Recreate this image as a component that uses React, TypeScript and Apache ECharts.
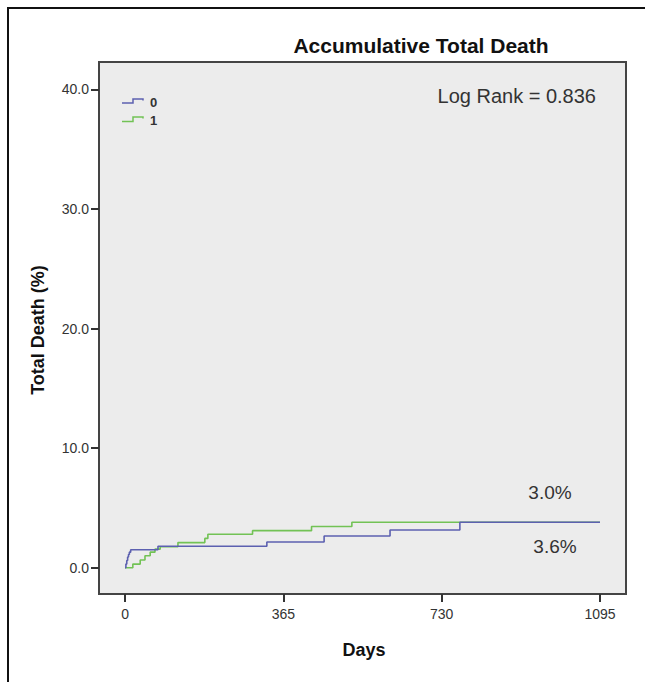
import React, { useEffect, useRef } from "react";
import * as echarts from "echarts";

// Group 0 (blue) cumulative death (%) by day
const days0 = [0, 2, 4, 6, 8, 10, 13, 76, 327, 459, 611, 772, 1095];
const death0 = [0, 0.3, 0.6, 0.9, 1.1, 1.3, 1.5, 1.8, 2.15, 2.65, 3.15, 3.8, 3.8];
// Group 1 (green)
const days1 = [0, 18, 35, 46, 58, 69, 81, 122, 184, 191, 294, 430, 523, 1095];
const death1 = [0, 0.3, 0.65, 1.0, 1.3, 1.55, 1.75, 2.1, 2.45, 2.8, 3.1, 3.45, 3.8, 3.8];

const groupNames = ["0", "1"];
const xTicks = [0, 365, 730, 1095];
const yTicks = [0, 10, 20, 30, 40];
const titleText = "Accumulative Total Death";
const logRankText = "Log Rank = 0.836";
const endLabel0 = "3.6%";
const endLabel1 = "3.0%";

const FONT = "'Liberation Sans', Arial, sans-serif";
const BLUE = "#5c60b0";
const GREEN = "#72c255";

export default function App() {
  const ref = useRef<HTMLDivElement>(null);
  useEffect(() => {
    if (!ref.current) return;
    const chart = echarts.init(ref.current, null, { renderer: "svg" });
    const s0 = days0.map((d, i) => [d, death0[i]]);
    const s1 = days1.map((d, i) => [d, death1[i]]);
    chart.setOption({
      animation: false,
      backgroundColor: "#ffffff",
      grid: {
        left: 99,
        right: 19,
        top: 62,
        bottom: 88,
        show: true,
        backgroundColor: "#ececec",
        borderColor: "#444",
        borderWidth: 2,
      },
      xAxis: {
        type: "value",
        min: -60,
        max: 1155,
        splitLine: { show: false },
        axisLine: { show: false, onZero: false },
        axisTick: { show: true, length: 8, customValues: xTicks, lineStyle: { color: "#333", width: 2 } },
        axisLabel: {
          customValues: xTicks,
          color: "#333",
          fontSize: 14,
          fontFamily: FONT,
          margin: 13,
          formatter: (v: number) => String(v),
        },
      },
      yAxis: {
        type: "value",
        min: -2.2,
        max: 42.3,
        splitLine: { show: false },
        axisLine: { show: false, onZero: false },
        axisTick: { show: true, length: 8, customValues: yTicks, lineStyle: { color: "#333", width: 2 } },
        axisLabel: {
          customValues: yTicks,
          color: "#333",
          fontSize: 14,
          fontFamily: FONT,
          margin: 10,
          formatter: (v: number) => v.toFixed(1),
        },
      },
      series: [
        {
          name: groupNames[1],
          type: "line",
          step: "end",
          data: s1,
          showSymbol: false,
          lineStyle: { color: GREEN, width: 1.6 },
          z: 2,
        },
        {
          name: groupNames[0],
          type: "line",
          step: "end",
          data: s0,
          showSymbol: false,
          lineStyle: { color: BLUE, width: 1.6 },
          z: 3,
        },
      ],
      graphic: [
        {
          type: "rect",
          shape: { x: 8, y: 8, width: 720, height: 720 },
          style: { fill: "none", stroke: "#111", lineWidth: 2 },
          silent: true,
        },
        {
          type: "text",
          x: 421,
          y: 45,
          style: {
            text: titleText,
            fontSize: 21,
            fontWeight: "bold",
            fontFamily: FONT,
            fill: "#111",
            align: "center",
            verticalAlign: "middle",
          },
        },
        {
          type: "text",
          x: 596,
          y: 96,
          style: {
            text: logRankText,
            fontSize: 20,
            fontFamily: FONT,
            fill: "#333",
            align: "right",
            verticalAlign: "middle",
          },
        },
        {
          type: "text",
          x: 550,
          y: 492,
          style: { text: endLabel1, fontSize: 19, fontFamily: FONT, fill: "#333", align: "center", verticalAlign: "middle" },
        },
        {
          type: "text",
          x: 555,
          y: 546,
          style: { text: endLabel0, fontSize: 19, fontFamily: FONT, fill: "#333", align: "center", verticalAlign: "middle" },
        },
        {
          type: "text",
          x: 38,
          y: 330,
          rotation: Math.PI / 2,
          style: {
            text: "Total Death (%)",
            fontSize: 18,
            fontWeight: "bold",
            fontFamily: FONT,
            fill: "#111",
            align: "center",
            verticalAlign: "middle",
          },
        },
        {
          type: "text",
          x: 364,
          y: 650,
          style: {
            text: "Days",
            fontSize: 18,
            fontWeight: "bold",
            fontFamily: FONT,
            fill: "#111",
            align: "center",
            verticalAlign: "middle",
          },
        },
        {
          type: "polyline",
          shape: { points: [[122, 103], [133, 103], [133, 99], [143, 99], [143, 100.5]] },
          style: { stroke: BLUE, lineWidth: 1.5, fill: "none" },
        },
        {
          type: "text",
          x: 150,
          y: 102,
          style: { text: groupNames[0], fontSize: 13, fontWeight: "bold", fontFamily: FONT, fill: "#333", verticalAlign: "middle" },
        },
        {
          type: "polyline",
          shape: { points: [[122, 121.5], [133, 121.5], [133, 117], [143, 117], [143, 118.5]] },
          style: { stroke: GREEN, lineWidth: 1.5, fill: "none" },
        },
        {
          type: "text",
          x: 150,
          y: 120,
          style: { text: groupNames[1], fontSize: 13, fontWeight: "bold", fontFamily: FONT, fill: "#333", verticalAlign: "middle" },
        },
      ],
    });
    return () => chart.dispose();
  }, []);
  return <div ref={ref} style={{ position: "fixed", left: 0, top: 0, width: 645, height: 682 }} />;
}
